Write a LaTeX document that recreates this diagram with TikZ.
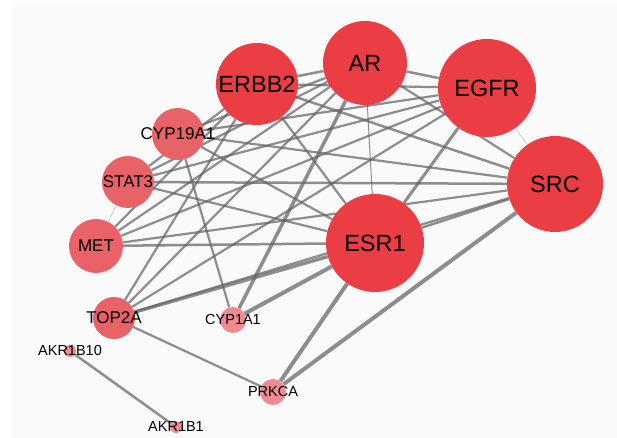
\documentclass[tikz,border=0pt]{standalone}
\usepackage{fontspec}
\setmainfont{Liberation Sans}
\usetikzlibrary{backgrounds}
\definecolor{hubred}{RGB}{234,62,68}
\definecolor{midred}{RGB}{232,98,104}
\definecolor{leafred}{RGB}{238,138,144}
\definecolor{linkgray}{RGB}{100,100,100}
\definecolor{panel}{RGB}{250,250,250}
\begin{document}
\begin{tikzpicture}[x=1pt,y=-1pt,
	gene/.style={circle,inner sep=0pt,minimum size=#1},
	hub/.style={gene=#1,fill=hubred},
	mid/.style={gene=#1,fill=midred},
	leaf/.style={gene=#1,fill=leafred},
	link/.style={draw=linkgray,draw opacity=0.72},
	faint/.style={draw=linkgray,draw opacity=0.3,line width=0.8pt},
	big/.style={font=\fontsize{23.5}{24}\selectfont},
	med/.style={font=\fontsize{17}{18}\selectfont},
	small/.style={font=\fontsize{14.5}{15}\selectfont}]
	\useasboundingbox (0,0) rectangle (617,438);

	\node[hub=82,label={[big]center:ERBB2}] (ERBB2) at (257,84) {};
	\node[hub=84,label={[big]center:AR}] (AR) at (365,63) {};
	\node[hub=98,label={[big]center:EGFR}] (EGFR) at (487,88) {};
	\node[hub=96,label={[big]center:SRC}] (SRC) at (555,184) {};
	\node[hub=98,label={[big]center:ESR1}] (ESR1) at (375,243) {};
	\node[mid=52,label={[med]center:CYP19A1}] (CYP19A1) at (178,134) {};
	\node[mid=52,label={[med]center:STAT3}] (STAT3) at (128,182) {};
	\node[mid=54,label={[med]center:MET}] (MET) at (96,246) {};
	\node[mid=42,label={[med]center:TOP2A}] (TOP2A) at (114,318) {};
	\node[leaf=26,label={[small]center:CYP1A1}] (CYP1A1) at (233,320) {};
	\node[leaf=26,label={[small]center:PRKCA}] (PRKCA) at (273,392) {};
	\node[leaf=12,label={[small]center:AKR1B10}] (AKR1B10) at (70,351) {};
	\node[leaf=12,label={[small]center:AKR1B1}] (AKR1B1) at (176,427) {};

	\begin{pgfonlayer}{background}
	\fill[white] (0,0) rectangle (617,438);
	\fill[panel] (12,4) rectangle (617,438);
	\foreach \a/\b/\w in {ERBB2/AR/2.5, ERBB2/EGFR/2.2, ERBB2/SRC/2.5, ERBB2/ESR1/2.2,
		AR/EGFR/2.5, AR/SRC/2.2, AR/ESR1/1, EGFR/ESR1/3, SRC/ESR1/2.5,
		CYP19A1/AR/2.2, CYP19A1/EGFR/2.2, CYP19A1/SRC/2.2, CYP19A1/ESR1/2.2, CYP19A1/CYP1A1/2.2,
		STAT3/ERBB2/2.2, STAT3/AR/2.2, STAT3/EGFR/2.2, STAT3/SRC/2.5, STAT3/ESR1/2.2,
		MET/ERBB2/2.2, MET/AR/2.2, MET/EGFR/2.2, MET/SRC/2.2, MET/ESR1/2.5,
		TOP2A/ERBB2/2.2, TOP2A/AR/2.2, TOP2A/EGFR/2.2, TOP2A/SRC/2.2, TOP2A/ESR1/3.5, TOP2A/PRKCA/2.2,
		CYP1A1/AR/3.5, CYP1A1/ESR1/4, PRKCA/ESR1/4, PRKCA/SRC/4, AKR1B10/AKR1B1/2.5}
		\draw[link,line width=\w pt] (\a) -- (\b);
	\draw[faint] (EGFR) -- (SRC);
	\draw[faint] (STAT3) -- (MET);
	\end{pgfonlayer}
\end{tikzpicture}
\end{document}
